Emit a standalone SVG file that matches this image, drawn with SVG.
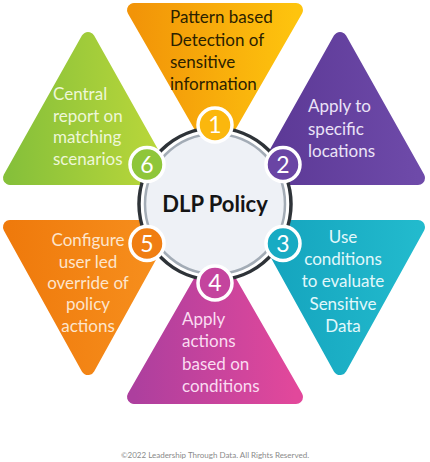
<svg xmlns="http://www.w3.org/2000/svg" width="430" height="462" viewBox="0 0 430 462">
<defs>
<linearGradient id="g1" x1="0" y1="0" x2="1" y2="0"><stop offset="0" stop-color="#f29408"/><stop offset="1" stop-color="#fec40e"/></linearGradient>
<linearGradient id="g2" x1="0" y1="0" x2="1" y2="0"><stop offset="0" stop-color="#5b3895"/><stop offset="1" stop-color="#6e4aa9"/></linearGradient>
<linearGradient id="g3" x1="0" y1="0" x2="1" y2="0"><stop offset="0" stop-color="#14a3bd"/><stop offset="1" stop-color="#22bacd"/></linearGradient>
<linearGradient id="g4" x1="0" y1="0" x2="1" y2="0"><stop offset="0" stop-color="#ad3f9e"/><stop offset="1" stop-color="#e2489b"/></linearGradient>
<linearGradient id="g5" x1="0" y1="0" x2="1" y2="0"><stop offset="0" stop-color="#ef7a0c"/><stop offset="1" stop-color="#f7901e"/></linearGradient>
<linearGradient id="g6" x1="0" y1="0" x2="1" y2="0"><stop offset="0" stop-color="#86c03a"/><stop offset="1" stop-color="#bcd83a"/></linearGradient>
</defs>
<style>
.tri{stroke-width:14;stroke-linejoin:round}
.t{font-family:Lato,"Open Sans","Liberation Sans",sans-serif;font-size:17px}
.badge{stroke:#ffffff;stroke-width:3.5}
.num{font-family:Lato,"Open Sans","Liberation Sans",sans-serif;font-size:23px;fill:#ffffff;text-anchor:middle}
.c{text-anchor:middle}
</style>
<rect width="430" height="462" fill="#ffffff"/>
<g id="node1">
<polygon class="tri" points="134,10 296,10 215,151" fill="url(#g1)" stroke="url(#g1)"/>
<g class="t" fill="#2b2100"><text x="170" y="23">Pattern based</text><text x="170" y="46">Detection of</text><text x="170" y="68">sensitive</text><text x="170" y="90">information</text></g>
</g>
<g id="node2">
<polygon class="tri" points="262,178 418,178 340,39" fill="url(#g2)" stroke="url(#g2)"/>
<g class="t" fill="#ebe3f7"><text x="308" y="112">Apply to</text><text x="308" y="135">specific</text><text x="308" y="157">locations</text></g>
</g>
<g id="node3">
<polygon class="tri" points="262,227 418,227 340,368" fill="url(#g3)" stroke="url(#g3)"/>
<g class="t c" fill="#e2f8fb"><text x="343" y="243">Use</text><text x="343" y="265">conditions</text><text x="343" y="287">to evaluate</text><text x="343" y="310">Sensitive</text><text x="343" y="332">Data</text></g>
</g>
<g id="node4">
<polygon class="tri" points="134,397 296,397 215,256" fill="url(#g4)" stroke="url(#g4)"/>
<g class="t" fill="#fadcf1"><text x="182" y="325">Apply</text><text x="182" y="347">actions</text><text x="182" y="370">based on</text><text x="182" y="392">conditions</text></g>
</g>
<g id="node5">
<polygon class="tri" points="10,227 166,227 88,368" fill="url(#g5)" stroke="url(#g5)"/>
<g class="t c" fill="#fde5cc"><text x="88" y="246">Configure</text><text x="88" y="268">user led</text><text x="88" y="289">override of</text><text x="88" y="310">policy</text><text x="88" y="332">actions</text></g>
</g>
<g id="node6">
<polygon class="tri" points="10,178 166,178 88,39" fill="url(#g6)" stroke="url(#g6)"/>
<g class="t" fill="#eef7d8"><text x="53" y="100">Central</text><text x="53" y="122">report on</text><text x="53" y="143">matching</text><text x="53" y="165">scenarios</text></g>
</g>
<g id="center">
<circle cx="215" cy="204" r="76" fill="#ffffff" stroke="#2e3338" stroke-width="3.5"/>
<circle cx="215" cy="204" r="70" fill="#eef1f6" stroke="#a3acb6" stroke-width="2.5"/>
<text x="215" y="212" font-family="Lato,'Open Sans','Liberation Sans',sans-serif" font-size="22" font-weight="bold" fill="#151515" text-anchor="middle">DLP Policy</text>
</g>
<g id="badges">
<g id="badge1"><circle class="badge" cx="215" cy="125" r="17" fill="#fbb70d"/><text class="num" x="215" y="133">1</text></g>
<g id="badge2"><circle class="badge" cx="283" cy="164.5" r="17" fill="#6a45a4"/><text class="num" x="283" y="172.5">2</text></g>
<g id="badge3"><circle class="badge" cx="283" cy="243.5" r="17" fill="#18abc3"/><text class="num" x="283" y="251.5">3</text></g>
<g id="badge4"><circle class="badge" cx="215" cy="283" r="17" fill="#c4449e"/><text class="num" x="215" y="291">4</text></g>
<g id="badge5"><circle class="badge" cx="147" cy="243.5" r="17" fill="#f07e12"/><text class="num" x="147" y="251.5">5</text></g>
<g id="badge6"><circle class="badge" cx="147" cy="164.5" r="17" fill="#8fc63a"/><text class="num" x="147" y="172.5">6</text></g>
</g>
<g id="connectors"></g>
<text x="215" y="458" font-family="Lato,'Open Sans','Liberation Sans',sans-serif" font-size="8" fill="#8a8a8a" text-anchor="middle">©2022 Leadership Through Data. All Rights Reserved.</text>
</svg>
